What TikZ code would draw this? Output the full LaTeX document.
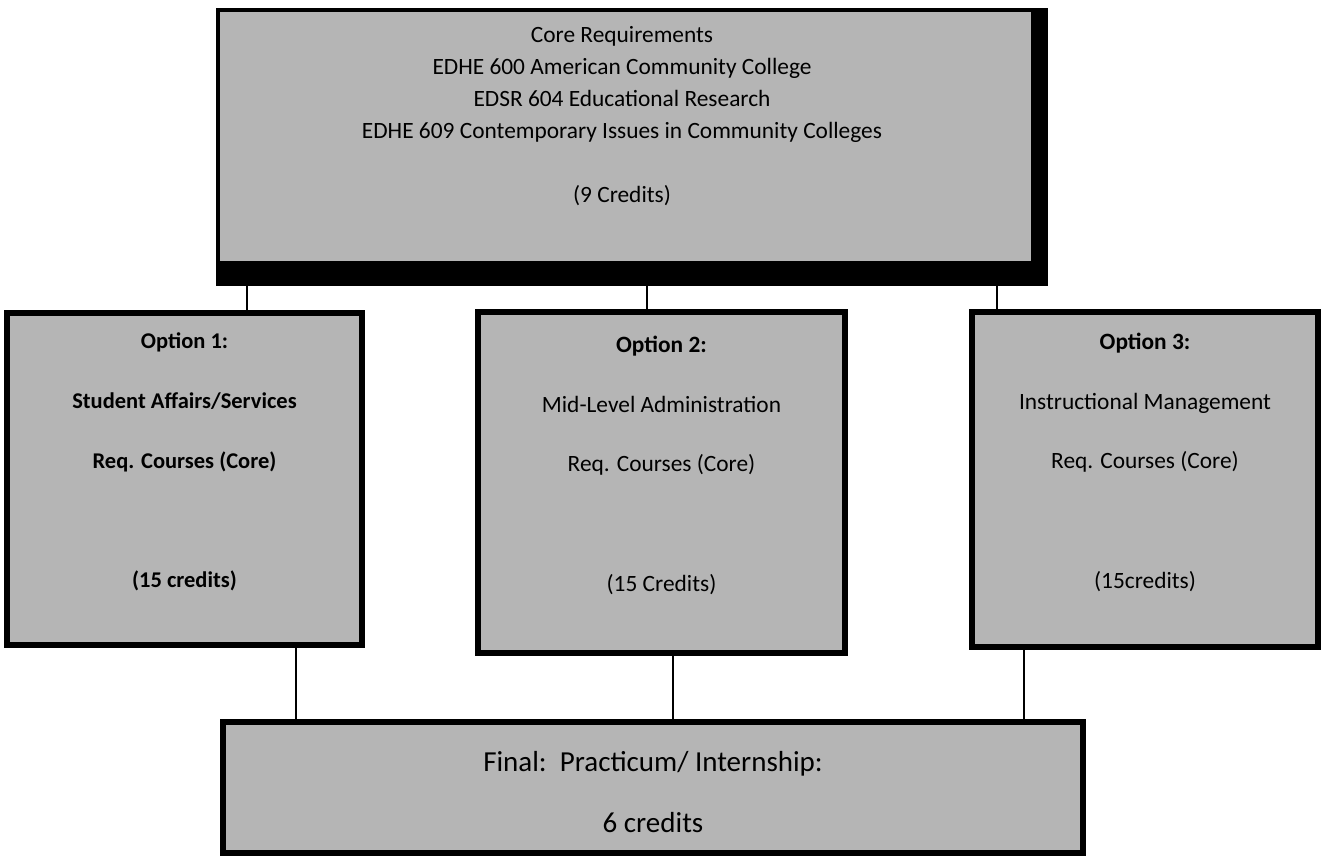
\documentclass[tikz,border=0pt]{standalone}
\usepackage{fontspec}
\setmainfont{Carlito}
\usetikzlibrary{calc,positioning}
\usepackage{tkz-euclide}
\definecolor{BoxClr}{rgb}{0.71,0.71,0.71}
\definecolor{LineClr}{rgb}{0,0,0}

\tikzset{
  box/.style={draw=LineClr,fill=BoxClr,line width=3.2pt,inner sep=0pt},
  coretxt/.style={align=center,inner sep=0pt,font=\fontsize{13.3}{18.2}\selectfont},
  opttxt/.style={align=center,inner sep=0pt,font=\fontsize{13.3}{34}\selectfont},
  fintxt/.style={align=center,inner sep=0pt,font=\fontsize{16.5}{34.7}\selectfont},
  link/.style={draw=LineClr,line width=1.3pt},
}

\begin{document}
\begin{tikzpicture}
\useasboundingbox (0,0) rectangle (26.5,-17.14);

\tkzDefPoints{4.94/0/L1,12.94/0/L2,19.94/0/L3,5.92/0/M1,13.46/0/M2,20.48/0/M3}

\node[box,line width=2.2pt,minimum width=16.3cm,minimum height=5.06cm] (core) at (12.51,-2.73) {};
\fill[LineClr] (core.south west) rectangle ($(core.south east)+(0.26,-0.42)$);
\fill[LineClr] (core.north east) rectangle ($(core.south east)+(0.26,0)$);

\node[box,minimum width=7.1cm,minimum height=6.64cm] (optA) at (3.69,-9.58) {};
\node[box,minimum width=7.34cm,minimum height=6.82cm] (optB) at (13.23,-9.65) {};
\node[box,minimum width=6.92cm,minimum height=6.7cm] (optC) at (22.9,-9.59) {};
\node[box,line width=3.4pt,minimum width=17.2cm,minimum height=2.62cm] (final) at (13.06,-15.75) {};

\draw[link] (L1 |- core.south) -- (L1 |- optA.north);
\draw[link] (L2 |- core.south) -- (L2 |- optB.north);
\draw[link] (L3 |- core.south) -- (L3 |- optC.north);
\draw[link] (M1 |- optA.south) -- (M1 |- final.north);
\draw[link] (M2 |- optB.south) -- (M2 |- final.north);
\draw[link] (M3 |- optC.south) -- (M3 |- final.north);

\node[coretxt] (coreLbl) at (12.44,-2.32) {Core Requirements\\
  EDHE 600 American Community College\\
  EDSR 604 Educational Research\\
  EDHE 609 Contemporary Issues in Community Colleges\\[0.64cm]
  (9 Credits)};

\node[opttxt,font=\bfseries\fontsize{12.8}{34}\selectfont,yshift=3.4mm] (optALbl) at (optA) {Option 1:\\
  Student Affairs/Services\\
  Req. Courses (Core)\\[1.2cm]
  (15 credits)};
\node[opttxt,yshift=3.4mm] (optBLbl) at (optB) {\textbf{Option 2:}\\
  Mid-Level Administration\\
  Req. Courses (Core)\\[1.2cm]
  (15 Credits)};
\node[opttxt,yshift=3.4mm] (optCLbl) at (optC) {\textbf{Option 3:}\\
  Instructional Management\\
  Req. Courses (Core)\\[1.2cm]
  (15credits)};

\node[fintxt,yshift=-0.9mm] (finalLbl) at (final) {Final:\ \ Practicum/ Internship:\\
  6 credits};

\end{tikzpicture}
\end{document}
